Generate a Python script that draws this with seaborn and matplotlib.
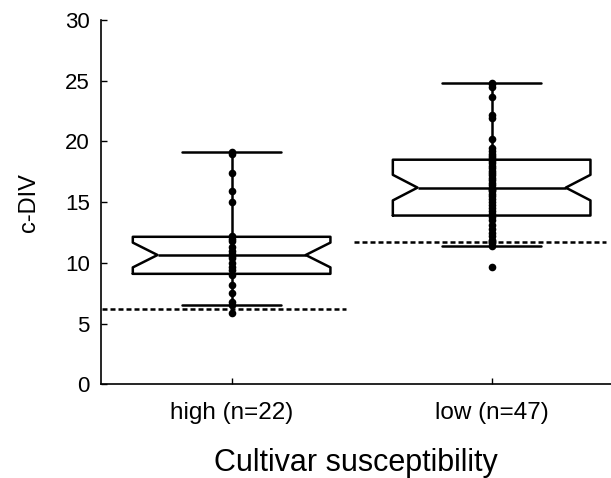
import numpy as np
import pandas as pd
import matplotlib
matplotlib.use("Agg")
import matplotlib.pyplot as plt
import seaborn as sns

# categories / values
groups = ["high (n=22)", "low (n=47)"]
high_vals = [5.9, 6.5, 6.8, 7.5, 8.2, 9.0, 9.4, 9.7, 10.0, 10.4, 10.6,
             10.7, 11.0, 11.3, 11.8, 12.0, 12.2, 15.0, 15.9, 17.4, 19.0, 19.1]
low_vals = [9.7, 11.4, 11.6, 11.7, 11.8, 11.9, 12.2, 12.5, 12.8, 13.1, 13.5,
            13.8, 14.0, 14.3, 14.5, 14.8, 15.0, 15.3, 15.5, 15.7, 15.9, 16.0,
            16.1, 16.2, 16.4, 16.6, 16.8, 17.0, 17.2, 17.4, 17.6, 17.8, 18.0,
            18.2, 18.4, 18.6, 18.8, 19.0, 19.2, 19.5, 20.2, 21.9, 22.2, 23.7,
            24.5, 24.7, 24.8]
cutoffs = [6.2, 11.7]
yticks = [0, 5, 10, 15, 20, 25, 30]

df = pd.DataFrame({
    "group": [groups[0]] * len(high_vals) + [groups[1]] * len(low_vals),
    "cdiv": high_vals + low_vals,
})

sns.set_style("ticks")
plt.rcParams["font.family"] = ["Liberation Sans", "DejaVu Sans"]
plt.rcParams["text.color"] = "black"
plt.rcParams["axes.labelcolor"] = "black"

fig = plt.figure(figsize=(6.11, 4.78), dpi=100)
ax = fig.add_axes([0.165, 0.196, 0.835, 0.762])

sns.boxplot(data=df, x="group", y="cdiv", order=groups, notch=True,
            fill=False, color="black", width=0.76, whis=(2, 100),
            showfliers=False, linewidth=1.8, ax=ax)

# shallower notches, like the original
for cont in ax.containers:
    boxes = getattr(cont, "boxes", [])
    medians = getattr(cont, "medians", [])
    for box, med in zip(boxes, medians):
        bx = np.asarray(box.get_xdata(), dtype=float)
        c = (bx.min() + bx.max()) / 2
        half = (bx.max() - bx.min()) / 2
        for ln in (box, med):
            xs = np.asarray(ln.get_xdata(), dtype=float)
            new = c + np.sign(xs - c) * (half - 0.5 * (half - np.abs(xs - c)))
            ln.set_data(new, ln.get_ydata())

sns.stripplot(data=df, x="group", y="cdiv", order=groups, jitter=False,
              color="black", size=5.5, ax=ax, zorder=5)

# dashed reference line for each group
for i, c in enumerate(cutoffs):
    ax.hlines(c, i - 0.53, i + 0.44, colors="black", linewidth=1.8,
              linestyles=(0, (2, 1.2)), zorder=4)

ax.set_xlim(-0.503, 1.459)
ax.set_ylim(0, 30)
ax.set_yticks(yticks)
ax.tick_params(direction="in", length=4, width=1, pad=8, colors="black")
ax.tick_params(axis="y", labelsize=16)
ax.tick_params(axis="x", labelsize=17.5, pad=13)
for s in ["left", "bottom"]:
    ax.spines[s].set_linewidth(1.2)
    ax.spines[s].set_color("black")
sns.despine(ax=ax)

ax.set_xlabel("Cultivar susceptibility", fontsize=22, labelpad=17)
ax.set_ylabel("c-DIV", fontsize=17, labelpad=18)

fig.savefig("out.png", dpi=100)
